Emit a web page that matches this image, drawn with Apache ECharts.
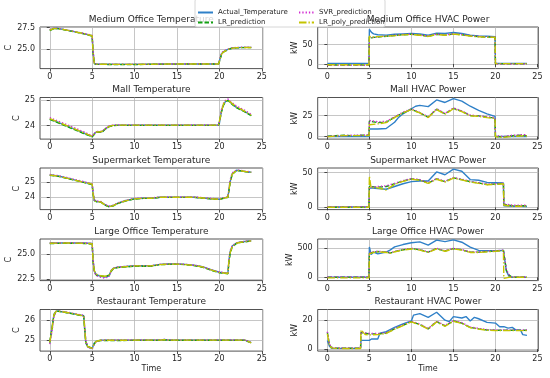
<!DOCTYPE html>
<html><head><meta charset="utf-8">
<script src="https://cdn.jsdelivr.net/npm/echarts@6/dist/echarts.min.js"></script>
<style>html,body{margin:0;padding:0;background:#fff}#c{width:550px;height:378px}</style>
</head><body><div id="c"></div>
<script>
// ---------------- DATA ----------------
const seriesNames = ['Actual_Temperature', 'LR_prediction', 'SVR_prediction', 'LR_poly_prediction'];
const titles = ['Medium Office Temperature', 'Medium Office HVAC Power', 'Mall Temperature', 'Mall HVAC Power',
  'Supermarket Temperature', 'Supermarket HVAC Power', 'Large Office Temperature', 'Large Office HVAC Power',
  'Restaurant Temperature', 'Restaurant HVAC Power'];
const xTicks = [0, 5, 10, 15, 20, 25];
const yTicks = [[25, 27.5], [0, 50], [24, 25], [0, 25], [24, 25], [0, 50], [22.5, 25], [0, 500], [25, 26], [0, 20]];
const units = ['C', 'kW', 'C', 'kW', 'C', 'kW', 'C', 'kW', 'C', 'kW'];

// Medium Office Temperature
const moT_t = [0, 0.5, 1, 2, 3, 4, 5, 5.1, 5.25, 5.5, 6, 8, 10, 12, 14, 16, 18, 19.9, 20, 20.25, 20.5, 21, 21.5, 22, 23, 23.75];
const moT_act = [27.2, 27.4, 27.38, 27.2, 27.0, 26.8, 26.55, 24.8, 23.4, 23.3, 23.3, 23.28, 23.28, 23.3, 23.32, 23.33, 23.33, 23.33, 23.45, 24.5, 24.75, 25.0, 25.15, 25.2, 25.22, 25.22];
const moT_lr = [27.15, 27.38, 27.36, 27.18, 26.98, 26.78, 26.5, 24.6, 23.35, 23.28, 23.28, 23.27, 23.27, 23.29, 23.31, 23.32, 23.32, 23.32, 23.5, 24.4, 24.7, 24.97, 25.12, 25.18, 25.2, 25.2];
const moT_svr = [27.25, 27.42, 27.4, 27.22, 27.02, 26.82, 26.6, 25.0, 23.45, 23.32, 23.31, 23.3, 23.29, 23.31, 23.33, 23.34, 23.34, 23.34, 23.4, 24.6, 24.8, 25.03, 25.17, 25.22, 25.24, 25.24];
const moT_poly = [27.2, 27.38, 27.35, 27.2, 27.0, 26.8, 26.55, 24.7, 23.38, 23.29, 23.3, 23.28, 23.28, 23.3, 23.32, 23.33, 23.33, 23.33, 23.48, 24.45, 24.72, 24.98, 25.13, 25.19, 25.21, 25.21];

// Medium Office HVAC Power
const moP_t = [0, 4.95, 5, 5.25, 5.5, 6, 7, 8, 9, 10, 11, 12, 13, 14, 15, 16, 17, 18, 19, 19.95, 20, 21, 22, 23, 23.75];
const moP_act = [1.5, 1.5, 90, 82, 78, 76, 75, 77, 78, 79, 78, 75, 80, 79, 82, 79, 75, 73, 72, 71, 2, 1.5, 1.5, 1.5, 1.5];
const moP_lr = [-2.5, -2.5, 70, 68, 69, 70, 72, 74, 76, 77, 75, 72, 77, 75, 78, 76, 73, 71, 70, 70, 1, 0.5, 0.5, 0.5, 0.5];
const moP_svr = [-3.5, -3.5, 69, 68, 69, 70.5, 72.5, 74.5, 76.5, 77.5, 75.5, 72.5, 77.5, 75.5, 78.5, 76.5, 73.5, 71.5, 70.5, 70, 0, 0, 0, 0, 0];
const moP_poly = [-2, -2, 72, 70, 70, 71, 72, 73.5, 75.5, 76.5, 74.5, 71.5, 76.5, 74.5, 77.5, 75.5, 72.5, 70.5, 69.5, 69.5, 1, 1, 1, 1, 1];

// Mall Temperature
const maT_t = [0, 1, 2, 3, 4, 5, 5.25, 5.5, 6, 6.25, 6.5, 7, 7.5, 8, 10, 12, 14, 16, 18, 19.9, 20, 20.25, 20.5, 20.75, 21, 21.5, 22, 23, 23.75];
const maT_act = [24.27, 24.13, 23.99, 23.85, 23.71, 23.57, 23.68, 23.75, 23.75, 23.78, 23.86, 23.97, 24.01, 24.02, 24.02, 24.02, 24.02, 24.02, 24.02, 24.02, 24.1, 24.6, 24.85, 24.97, 25.0, 24.85, 24.72, 24.55, 24.4];
const maT_lr = [24.25, 24.11, 23.97, 23.83, 23.69, 23.56, 23.66, 23.74, 23.74, 23.77, 23.85, 23.96, 24.0, 24.01, 24.01, 24.01, 24.01, 24.01, 24.01, 24.01, 24.05, 24.55, 24.82, 24.95, 24.99, 24.84, 24.71, 24.54, 24.39];
const maT_svr = [24.32, 24.18, 24.04, 23.9, 23.76, 23.6, 23.7, 23.77, 23.77, 23.8, 23.88, 23.99, 24.03, 24.03, 24.03, 24.03, 24.03, 24.03, 24.03, 24.03, 24.15, 24.65, 24.9, 25.02, 25.05, 24.9, 24.78, 24.6, 24.45];
const maT_poly = [24.28, 24.14, 24.0, 23.86, 23.72, 23.58, 23.67, 23.75, 23.76, 23.79, 23.86, 23.97, 24.01, 24.02, 24.02, 24.02, 24.02, 24.02, 24.02, 24.02, 24.08, 24.58, 24.87, 24.98, 25.01, 24.87, 24.74, 24.56, 24.41];

// Mall HVAC Power
const maP_tA = [0, 1, 2, 3, 4, 4.95, 5, 6, 7, 8, 8.5, 9, 10, 10.5, 11, 12, 13, 14, 15, 16, 17, 18, 19, 19.95, 20, 21, 22, 23, 23.75];
const maP_act = [0, 0, 0, 0, 0, 0, 9, 9, 9.5, 17, 23, 27, 33, 36, 37, 35.5, 43.5, 40.5, 45, 42, 36, 31, 27, 24, 0, 0, 0, 0, 0];
const maP_tP = [0, 1, 2, 3, 4, 4.95, 5, 6, 7, 8, 9, 10, 11, 12, 13, 14, 15, 16, 17, 18, 19, 19.95, 20, 21, 22, 23, 23.75];
const maP_lr = [0.5, 1, 1.5, 1, 1.5, 1.5, 18.5, 16.5, 17, 23, 28, 32.5, 28, 23, 32.5, 27, 33.5, 30, 25, 24.5, 23, 22, 0, -0.5, 1, 1.5, 1];
const maP_svr = [0, 0.8, 1.2, 1.5, 1.5, 2, 19, 17.5, 18, 23.5, 29, 33, 28.5, 23.5, 33, 27.5, 34, 30.5, 25.5, 24.5, 23.5, 22.5, 1, 0, 1.5, 2, 2];
const maP_poly = [-0.5, 0.5, 1, 1, 1, 1, 14, 15, 16.5, 22.5, 28, 32, 28, 22.5, 32, 26.5, 33, 29.5, 24.5, 24, 22.5, 21.5, -0.5, -1, 0, 0.5, 0.5];

// Supermarket Temperature
const smT_t = [0, 1, 2, 3, 4, 5, 5.1, 5.25, 5.5, 6, 6.5, 7, 7.5, 8, 9, 10, 11, 12, 13, 14, 15, 16, 17, 18, 19, 20, 20.5, 21, 21.25, 21.5, 22, 22.5, 23, 23.75];
const smT_act = [25.47, 25.4, 25.27, 25.13, 25.0, 24.85, 24.3, 23.8, 23.72, 23.7, 23.5, 23.38, 23.45, 23.6, 23.78, 23.9, 23.93, 23.93, 24.0, 24.0, 24.0, 24.0, 24.0, 23.95, 23.9, 23.86, 23.95, 24.0, 25.0, 25.55, 25.78, 25.75, 25.7, 25.65];
const smT_lr = [25.45, 25.38, 25.25, 25.11, 24.98, 24.83, 24.2, 23.78, 23.7, 23.68, 23.48, 23.36, 23.43, 23.58, 23.76, 23.88, 23.92, 23.92, 23.99, 23.99, 23.99, 23.99, 23.99, 23.94, 23.89, 23.85, 23.93, 23.99, 24.9, 25.5, 25.76, 25.74, 25.69, 25.64];
const smT_svr = [25.5, 25.43, 25.3, 25.16, 25.03, 24.88, 24.4, 23.83, 23.75, 23.72, 23.52, 23.4, 23.47, 23.62, 23.8, 23.92, 23.95, 23.95, 24.02, 24.02, 24.02, 24.02, 24.02, 23.97, 23.92, 23.88, 23.97, 24.02, 25.1, 25.6, 25.8, 25.77, 25.72, 25.67];
const smT_poly = [25.46, 25.39, 25.26, 25.12, 24.99, 24.86, 24.25, 23.8, 23.71, 23.69, 23.49, 23.37, 23.44, 23.59, 23.77, 23.89, 23.93, 23.93, 24.0, 24.0, 24.0, 24.0, 24.0, 23.95, 23.9, 23.86, 23.94, 24.0, 24.95, 25.52, 25.77, 25.75, 25.7, 25.65];

// Supermarket HVAC Power
const smP_t = [0, 2, 4, 4.95, 5, 5.2, 6, 7, 8, 9, 10, 11, 12, 13, 14, 15, 16, 17, 18, 19, 20, 20.95, 21, 21.2, 22, 23, 23.75];
const smP_act = [0.5, 0.5, 0.5, 0.5, 28, 28, 27, 26, 30, 34, 37, 38, 38, 51, 47, 55, 52, 40, 39, 36, 35.5, 35, 2, 2, 1.5, 1.5, 1];
const smP_lr = [0, 0, 0, 0, 30, 29, 29, 30, 34, 38, 41, 39.5, 35, 41, 37, 42.5, 40, 37, 35, 33, 33.5, 34.5, 4, 3, 2.5, 2.5, 2.5];
const smP_svr = [1, 1, 1, 1, 29, 29.5, 30, 31, 34.5, 38.5, 41.5, 40, 35.5, 41.5, 37.5, 43, 40.5, 37.5, 35.5, 33.5, 34, 35, 5, 3.5, 3, 3, 3];
const smP_poly = [0, 0, 0, 0, 45, 28, 28, 25, 33, 37.5, 40.5, 39, 34.5, 40.5, 36.5, 42, 39.5, 36.5, 34.5, 32.5, 33, 34, 3, 2, 1.5, 1.5, 1.5];

// Large Office Temperature
const loT_t = [0, 2, 4, 5, 5.1, 5.25, 5.5, 6, 6.5, 7, 7.25, 7.5, 8, 10, 12, 13, 14, 15, 16, 17, 18, 19, 20, 21, 21.1, 21.25, 21.5, 22, 22.5, 23, 23.75];
const loT_act = [26.1, 26.12, 26.1, 26.05, 24.5, 23.3, 22.95, 22.8, 22.72, 22.85, 23.4, 23.6, 23.7, 23.85, 23.85, 23.98, 24.02, 24.03, 23.98, 23.9, 23.75, 23.45, 23.2, 23.1, 24.2, 25.2, 25.8, 26.1, 26.2, 26.25, 26.32];
const loT_lr = [26.05, 26.08, 26.06, 26.0, 24.3, 23.25, 22.9, 22.82, 22.78, 22.9, 23.3, 23.55, 23.66, 23.8, 23.8, 23.95, 23.99, 24.0, 23.95, 23.86, 23.7, 23.4, 23.15, 23.05, 24.0, 25.0, 25.7, 26.05, 26.16, 26.22, 26.3];
const loT_svr = [26.12, 26.14, 26.12, 26.08, 24.6, 23.2, 22.85, 22.7, 22.62, 22.75, 23.35, 23.62, 23.72, 23.86, 23.86, 23.99, 24.03, 24.04, 23.99, 23.91, 23.76, 23.46, 23.22, 23.12, 24.3, 25.3, 25.85, 26.12, 26.22, 26.27, 26.34];
const loT_poly = [26.08, 26.1, 26.08, 26.03, 24.4, 23.35, 23.0, 22.85, 22.8, 22.92, 23.38, 23.58, 23.68, 23.83, 23.83, 23.96, 24.0, 24.01, 23.96, 23.88, 23.73, 23.43, 23.18, 23.08, 24.1, 25.1, 25.75, 26.08, 26.18, 26.24, 26.31];

// Large Office HVAC Power
const loP_t = [0, 2, 4, 4.95, 5, 5.2, 5.5, 6, 7, 7.5, 8, 9, 10, 11, 12, 13, 14, 15, 16, 17, 18, 19, 20, 20.95, 21, 21.3, 21.6, 21.75, 22, 23, 23.75];
const loP_act = [0, 0, 0, 0, 520, 390, 430, 400, 430, 470, 520, 560, 590, 605, 550, 635, 610, 640, 600, 515, 460, 455, 455, 460, 450, 110, 20, 0, 0, 0, 0];
const loP_lr = [0, 0, 0, 0, 410, 420, 430, 440, 430, 415, 440, 470, 490, 470, 430, 490, 450, 490, 470, 430, 430, 440, 450, 460, 450, 120, 40, 10, 0, 0, 0];
const loP_svr = [5, 5, 5, 5, 420, 425, 435, 445, 435, 420, 445, 475, 495, 475, 435, 495, 455, 495, 475, 435, 435, 445, 455, 465, 455, 130, 50, 15, 5, 5, 5];
const loP_poly = [-10, -10, -10, -10, 400, 415, 425, 435, 425, 410, 435, 465, 485, 465, 425, 485, 445, 485, 465, 425, 425, 435, 445, 455, -20, -10, 0, 0, 0, 0, 0];

// Restaurant Temperature
const reT_t = [0, 0.25, 0.5, 0.75, 1, 2, 3, 4, 4.1, 4.25, 4.5, 5, 5.25, 5.5, 6, 8, 10, 12, 13, 13.2, 13.5, 14, 16, 18, 20, 22, 23, 23.75];
const reT_act = [24.85, 25.6, 26.3, 26.45, 26.45, 26.38, 26.3, 26.22, 25.6, 24.85, 24.65, 24.58, 24.85, 24.95, 25.0, 25.0, 25.0, 25.0, 25.0, 25.08, 25.03, 25.0, 25.0, 25.0, 25.0, 25.0, 25.0, 24.87];
const reT_lr = [24.9, 25.5, 26.25, 26.43, 26.44, 26.37, 26.29, 26.2, 25.7, 24.9, 24.68, 24.6, 24.82, 24.93, 24.98, 24.98, 24.99, 24.99, 24.99, 25.05, 25.02, 24.99, 24.99, 24.99, 24.99, 24.99, 24.99, 24.86];
const reT_svr = [24.8, 25.4, 26.2, 26.42, 26.46, 26.4, 26.32, 26.24, 25.8, 25.0, 24.62, 24.55, 24.8, 24.92, 25.0, 25.01, 25.01, 25.01, 25.01, 25.04, 25.03, 25.01, 25.01, 25.01, 25.01, 25.01, 25.01, 24.88];
const reT_poly = [24.88, 25.55, 26.28, 26.44, 26.45, 26.38, 26.3, 26.21, 25.65, 24.88, 24.66, 24.59, 24.84, 24.94, 24.99, 24.99, 25.0, 25.0, 25.0, 25.06, 25.02, 25.0, 25.0, 25.0, 25.0, 25.0, 25.0, 24.86];

// Restaurant HVAC Power
const reP_tA = [0, 0.25, 0.5, 1, 2, 3, 3.95, 4, 4.5, 5, 5.25, 6, 6.25, 7, 8, 9, 10, 10.25, 11, 12, 13, 14, 14.5, 15, 16, 16.5, 17, 17.5, 18, 19, 20, 20.5, 21, 21.5, 22, 22.5, 23, 23.25, 23.75];
const reP_act = [6, 2, 0.5, 0.5, 0.5, 0.5, 0.5, 6, 6, 6, 7, 7, 11, 12, 15, 17.5, 19.5, 23.5, 24.5, 22, 25.5, 20, 19, 22.5, 21.5, 22.5, 19.5, 22, 21, 18.5, 18, 15.5, 15.5, 14.5, 15, 13, 13, 10, 9.5];
const reP_tP = [0, 0.25, 0.5, 1, 2, 3, 3.95, 4, 4.5, 5, 6, 7, 8, 9, 10, 11, 12, 13, 14, 15, 16, 17, 18, 19, 20, 21, 22, 23, 23.75];
const reP_lr = [11.5, 3, 1, 0.7, 0.6, 0.6, 0.6, 11.5, 11, 10.5, 10.5, 11, 14, 16.5, 19, 17, 14, 19, 16, 19.5, 18, 15, 14, 13.2, 13, 13, 13, 13, 13];
const reP_svr = [12, 3.5, 1.2, 0.8, 0.7, 0.7, 0.7, 12, 11.3, 10.8, 10.8, 11.3, 14.3, 16.8, 19.3, 17.3, 14.3, 19.3, 16.3, 19.8, 18.3, 15.3, 14.3, 13.5, 13.3, 13.3, 13.3, 13.3, 13.3];
const reP_poly = [10.5, 2.5, 0.8, 0.5, 0.4, 0.4, 0.4, 13.3, 10, 9.8, 10, 10.8, 13.8, 16.3, 18.8, 16.8, 13.8, 18.8, 15.8, 19.2, 17.8, 14.8, 13.8, 13, 12.8, 12.8, 12.8, 12.8, 12.8];

const panels = [
  { tA: moT_t, a: moT_act, tP: moT_t, p: [moT_lr, moT_svr, moT_poly] },
  { tA: moP_t, a: moP_act, tP: moP_t, p: [moP_lr, moP_svr, moP_poly] },
  { tA: maT_t, a: maT_act, tP: maT_t, p: [maT_lr, maT_svr, maT_poly] },
  { tA: maP_tA, a: maP_act, tP: maP_tP, p: [maP_lr, maP_svr, maP_poly] },
  { tA: smT_t, a: smT_act, tP: smT_t, p: [smT_lr, smT_svr, smT_poly] },
  { tA: smP_t, a: smP_act, tP: smP_t, p: [smP_lr, smP_svr, smP_poly] },
  { tA: loT_t, a: loT_act, tP: loT_t, p: [loT_lr, loT_svr, loT_poly] },
  { tA: loP_t, a: loP_act, tP: loP_t, p: [loP_lr, loP_svr, loP_poly] },
  { tA: reT_t, a: reT_act, tP: reT_t, p: [reT_lr, reT_svr, reT_poly] },
  { tA: reP_tA, a: reP_act, tP: reP_tP, p: [reP_lr, reP_svr, reP_poly] }
];

// ---------------- LAYOUT / STYLE ----------------
const FONT = 'DejaVu Sans';
const TXT = '#262626';
const COLORS = ['#2f80c8', '#12a012', '#d22ad2', '#c4c400'];
const DASH = ['solid', [4.5, 2], [1.3, 2], [7.5, 2, 1.3, 2]];
const colLeft = [40, 317.7], colWidth = [222.7, 220.6];
const rowTop = [27, 97.5, 168, 239, 309.5], rowH = 41.6;
const yRange = [[22.8, 27.55], [-12, 96], [23.47, 25.11], [-3.1, 46.4], [23.18, 25.93], [-3.3, 56.7],
  [22.37, 26.5], [-57, 655], [24.45, 26.53], [-1.4, 27.4]];
const yDec = [1, 0, 0, 0, 0, 0, 1, 0, 0, 0];
const yNameGap = [24, 17.5, 17.5, 18, 17.5, 17.5, 24, 23, 17.5, 17.5];

const grid = [], xAxis = [], yAxis = [], series = [], graphics = [];
const pairs = (t, v) => t.map((x, k) => [x, v[k]]);
const txtStyle = (size) => ({ fontSize: size, color: TXT, fontFamily: FONT });

panels.forEach((pn, i) => {
  const r = Math.floor(i / 2), c = i % 2;
  grid.push({ left: colLeft[c], top: rowTop[r], width: colWidth[c], height: rowH, show: true,
    borderColor: '#262626', borderWidth: 0.8, backgroundColor: 'transparent', containLabel: false, outerBoundsMode: 'none' });
  xAxis.push({ type: 'value', gridIndex: i, min: -1.15, max: 25.1,
    axisLine: { show: false },
    axisTick: { show: true, length: 3, customValues: xTicks, lineStyle: { color: '#262626', width: 0.8 } },
    axisLabel: { customValues: xTicks, margin: 4, ...txtStyle(8) },
    splitLine: { show: true, lineStyle: { color: '#b8b8b8', width: 0.8 } },
    name: r === 4 ? 'Time' : '', nameLocation: 'middle', nameGap: 14, nameTextStyle: txtStyle(8) });
  yAxis.push({ type: 'value', gridIndex: i, min: yRange[i][0], max: yRange[i][1],
    axisLine: { show: false },
    axisTick: { show: true, length: 3, customValues: yTicks[i], lineStyle: { color: '#262626', width: 0.8 } },
    axisLabel: { customValues: yTicks[i], margin: 5, formatter: v => v.toFixed(yDec[i]), ...txtStyle(8) },
    splitLine: { show: true, lineStyle: { color: '#b8b8b8', width: 0.8 } },
    name: units[i], nameLocation: 'middle', nameRotate: 90, nameGap: yNameGap[i], nameTextStyle: txtStyle(8) });
  const lists = [[pn.tA, pn.a], [pn.tP, pn.p[0]], [pn.tP, pn.p[1]], [pn.tP, pn.p[2]]];
  lists.forEach(([t, v], s) => {
    series.push({ type: 'line', name: seriesNames[s], xAxisIndex: i, yAxisIndex: i, data: pairs(t, v),
      symbol: 'none', color: COLORS[s], itemStyle: { color: COLORS[s] },
      lineStyle: { color: COLORS[s], width: 1.4, type: DASH[s] }, z: 2 + s, animation: false });
  });
  // left-column titles sit under the legend box, right-column titles above it
  graphics.push({ type: 'text', x: colLeft[c] + colWidth[c] / 2, y: rowTop[r] - 7.8, z: c === 0 ? 1 : 130,
    style: { text: titles[i], fill: TXT, font: '9px "DejaVu Sans"', align: 'center', verticalAlign: 'middle' } });
});

graphics.push({ type: 'rect', z: 100, shape: { x: 195, y: -1, width: 190, height: 28, r: 2 },
  style: { fill: 'rgba(255,255,255,0.8)', stroke: '#cccccc', lineWidth: 0.8 } });

const legendBase = { orient: 'vertical', top: 8.5, itemWidth: 15, itemHeight: 8, itemGap: 2, padding: 0, z: 120,
  itemStyle: { opacity: 0 },
  textStyle: { fontSize: 7, color: TXT, fontFamily: FONT, lineHeight: 8 } };

const chart = echarts.init(document.getElementById('c'), null, { renderer: 'canvas' });
chart.setOption({
  animation: false,
  backgroundColor: '#ffffff',
  textStyle: { fontFamily: FONT },
  grid, xAxis, yAxis, series,
  legend: [
    { ...legendBase, left: 197, data: [seriesNames[0], seriesNames[1]] },
    { ...legendBase, left: 298, data: [seriesNames[2], seriesNames[3]] }
  ],
  graphic: { elements: graphics }
});
</script></body></html>
